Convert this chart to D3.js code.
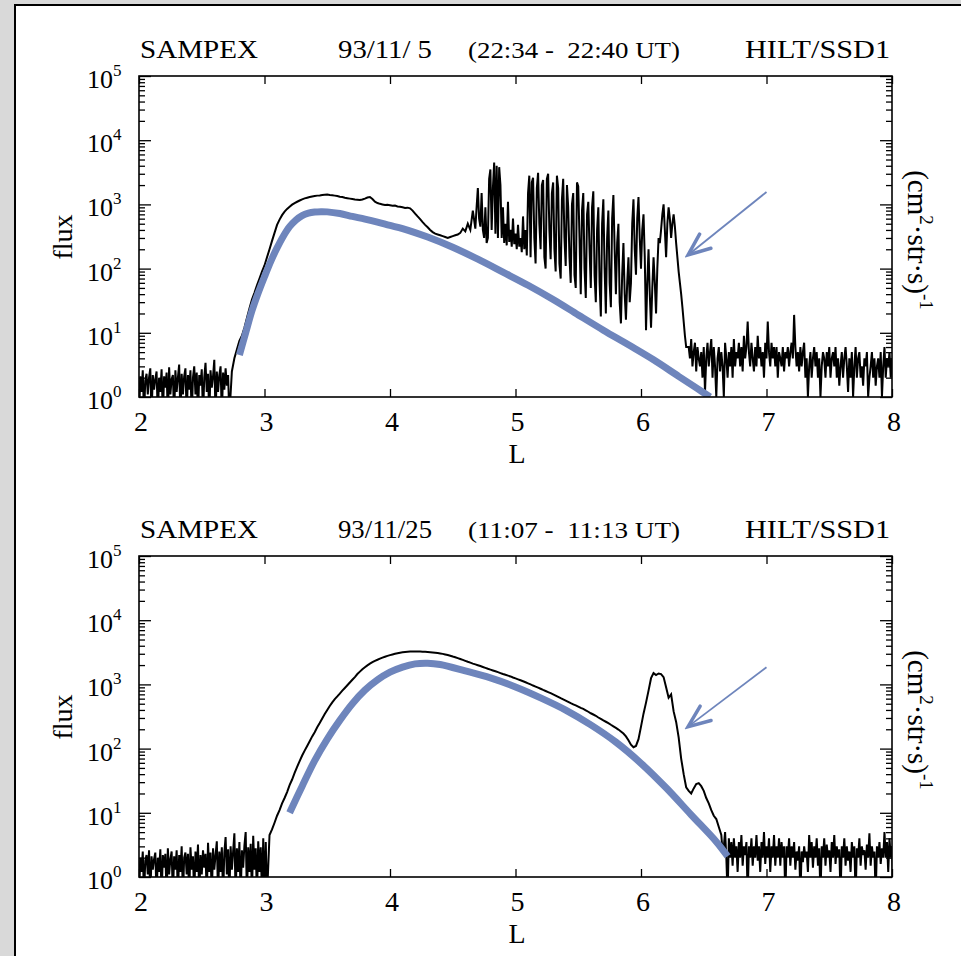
<!DOCTYPE html>
<html>
<head>
<meta charset="utf-8">
<script src="https://cdn.jsdelivr.net/npm/d3@7"></script>
<style>
body{margin:0;background:#d9d9d9}
svg{display:block;font-family:"Liberation Serif","Times New Roman",serif}
text{white-space:pre}
</style>
</head>
<body>
<div id="field"></div>
<script>
// flux samples; block k starts at L = *Starts[k] and steps by *Steps[k]
// (values under 1 are empty bins, they fall below the axis)
var topStarts = [2.00, 2.74, 4.44, 4.69, 6.38]
var topSteps = [0.01, 0.02, 0.02, 0.01, 0.01]
var topQuiet = [0.5,2.1,1.2,2.6,0.5,1.8,2.3,1.1,2.0,2.8, 0.5,2.2,1.3,1.9,2.5,0.5,2.0,1.2,2.7,0.5,
	2.1,1.4,2.4,0.5,2.9,1.1,1.9,2.2,0.5,2.6, 1.2,2.0,3.2,0.5,2.3,1.1,2.1,2.8,0.5,2.2,
	1.3,2.6,0.5,2.0,3.0,1.1,2.4,0.5,2.2,1.5, 2.7,0.5,2.0,3.4,1.2,2.3,0.5,2.6,1.4,2.1,
	3.8,0.5,2.5,1.2,2.2,3.0,0.5,2.4,1.3,2.8, 1.5,2.2,0.5]
var topRise = [2.5,4.0,5.5,7.5,9,12,17,24,33,42, 55,70,90,112,150,200,270,360,480,580,
	680,770,850,920,990,1050,1100,1150,1200,1240, 1270,1300,1330,1350,1370,1380,1400,1410,1420,1400,
	1390,1370,1350,1320,1300,1270,1250,1230,1210,1190, 1180,1170,1190,1230,1280,1300,1210,1100,1050,1020,
	1000,980,990,970,950,960,930,920,900,880, 890,870,800,720,650,590,530,480,440,400,
	370,350,340,330,320]
var topDip = [310,300,310,320,330,340,360,420,380,500, 400,800,420]
var topBursts = [900,1800,600,450,1500, 400,300,900,250,300,
	2500,3500,400,1800,4500,350,4000,300,3800,2000, 300,900,
	250,500,230,1100,260,400,220,600,240,350, 200,480,220,300,180,650,200,400,160,1500,
	2800,150,2200,2600,300,120,1800,3100,500,200, 2000,2400,150,100,2500,3000,400,140,1500,2200,
	200,90,2800,1800,120,70,1200,2500,300,110, 2000,900,150,60,1000,1500,80,50,2200,1900,
	300,40,800,1500,100,35,700,1100,200,50, 900,1600,80,30,400,900,60,
	18,500,1200,100,20,300,800,60,25,600, 1400,200,40,250,500,30,
	14,80,250,40,16,60,150,30,
	60,500,1200,200,80,600,1300,300,100,400, 700,150,
	11,60,200,40,12,50,150,60,20,100, 300,250,
	400,700,1000,400,150,500,900,600,300,500, 700,450,
	250,150,90,60,40,25,15,9,6]
var topTail = [6,4,8,3,5,7,2.5,6,4,3, 5,2,6,1.2,4,7,3,5,8,2, 6,3,1.0,4,6,2.5,5,3,1.0,7,
	4,2,5,3,6,2,8,3,5,4, 7,3,6,2.5,9,4,6,15,5,3, 7,4,2.5,6,3,9,4,6,3,5,
	2,7,4,15,5,3,7,4,6,3, 6,2,5,4,3,6,2.5,5,4,6, 3,5,7,4,19,6,3,5,2.5,6,
	3,5,7,2,4,1.0,3,5,2,4, 6,3,5,2,4,1.0,3,5,4,2, 5,3,6,2,4,5,3,6,2,4,
	1.5,3,5,2,4,6,3,1.2,4,2, 5,1.0,3,6,2,4,5,2,3,1.5, 4,3,5,1.0,2,3,5,2,4,1.5,
	3,4,2,5,1.0,3,6,2,4,3, 5,2,4]

var botStarts = [2.00, 3.04, 6.64]
var botSteps = [0.01, 0.02, 0.01]
var botQuiet = [0.5,2.0,1.2,2.5,0.5,1.8,2.2,1.1,2.6,0.5, 2.1,1.3,1.9,2.4,0.5,2.0,1.2,2.7,0.5,2.2,
	1.4,2.3,0.5,2.8,1.1,1.9,2.5,0.5,2.1,1.3, 2.6,0.5,2.2,1.2,3.0,0.5,2.0,2.4,1.1,2.3,
	0.5,2.9,1.3,2.1,0.5,2.5,1.2,3.2,0.5,2.2, 1.1,2.6,1.4,2.3,0.5,3.4,1.2,2.4,0.5,2.8,
	1.3,2.2,3.6,0.5,2.5,1.2,2.9,0.5,2.4,4.2, 1.1,2.7,0.5,3.0,1.3,2.5,4.8,0.5,2.8,1.2,
	3.5,0.5,2.6,1.4,3.1,5.0,0.5,2.9,1.2,3.3, 0.5,4.4,1.3,2.8,0.5,3.6,1.2,2.9,0.5,4.0,
	0.5,3.5,0.5]
var botBelt = [4.5,5.5,7,9,11,14,17,21,27,33, 42,52,64,78,93,110,130,155,180,215,
	250,295,345,400,460,525,590,650,720,800, 880,970,1070,1180,1300,1450,1580,1720,1850,1980,
	2100,2220,2330,2420,2520,2610,2700,2780,2860,2930, 3000,3060,3120,3160,3200,3220,3240,3250,3250,3250,
	3240,3230,3220,3200,3180,3150,3120,3080,3040,2990, 2930,2870,2800,2720,2650,2570,2490,2410,2330,2250,
	2180,2110,2050,1990,1930,1870,1810,1750,1700,1650, 1600,1550,1500,1450,1410,1370,1330,1280,1240,1200,
	1160,1120,1080,1040,1000,960,925,890,855,820, 790,760,730,700,670,640,610,585,560,535,
	510,490,470,450,430,415,395,375,355,340, 325,305,290,275,262,250,235,222,210,198,
	185,172,155,135,115,105,110,140,220,350, 520,800,1250,1500,1400,1480,1450,1300,900,620,
	700,380,260,150,70,40,25,22,20,24, 28,29,26,22,17,14,11,9,8,6]
var botTail = [4.5,2.5,3,5,2,0.5,4,2,3.5,1.5, 4,2,3,1.2,3.5,2,4.5,1.5,3,2.2,
	3.5,0.5,3,2,4,1.5,3,2,4.5,1.8, 3,1.2,3.5,2,5,1.6,3,2,4,1.2,
	3,2,4.5,1.5,3,2,4,1.5,3.5,2, 3,0.5,3,2,4,1.5,3,2,3.5,1.3,
	2.5,1.8,3,0.5,2.5,1.7,3,2,2.5,1.2, 4.5,2,3.5,1.4,3,2,4,1.5,2.8,0.5,
	3,2,4,1.5,3.2,2,2.6,1.2,3.5,2, 4.5,1.6,3,2,2.7,0.5,3,2,4,1.5,
	3,1.8,2.5,1.2,3.5,2,3,0.5,2.8,2, 4,1.5,3,2.2,2.6,1.3,3.2,2,4.8,1.5,
	3,2,2.5,0.5,3,2,3.5,1.6,2.8,2, 5,2,3.5,1.2,4,2,3,0.5,2.5,1.8,
	3.5,2,4]

// model curves [L, flux]
var topModel = [[2.80,4.5],[2.85,10],[2.90,22],[2.95,42],[3.00,75],[3.05,130],[3.10,210],[3.15,320],
	[3.20,450],[3.25,570],[3.30,670],[3.35,730],[3.40,760],[3.45,770],[3.50,765],[3.60,720],[3.70,650],
	[3.80,590],[3.90,530],[4.00,470],[4.10,420],[4.30,310],[4.50,215],[4.70,140],[4.90,88],[5.10,55],
	[5.30,33],[5.50,19],[5.70,11],[5.90,6.5],[6.10,3.8],[6.30,2.1],[6.45,1.35],[6.55,1.0]]
var botModel = [[3.20,10],[3.30,26],[3.40,65],[3.50,141],[3.60,275],[3.70,500],[3.80,813],[3.90,1175],
	[4.00,1550],[4.10,1860],[4.20,2090],[4.30,2140],[4.40,2040],[4.60,1620],[4.80,1260],[5.00,912],
	[5.20,617],[5.40,398],[5.60,234],[5.80,126],[6.00,59],[6.20,24.5],[6.40,9.3],[6.60,3.55],[6.69,2.1]]

// arrows: [tail, tip] as [L, flux]
var topArrow = [[7.0,1560],[6.375,163]]
var botArrow = [[7.0,1850],[6.375,220]]

var topTitles = ["SAMPEX", "93/11/ 5", "(22:34 -  22:40 UT)", "HILT/SSD1"]
var botTitles = ["SAMPEX", "93/11/25", "(11:07 -  11:13 UT)", "HILT/SSD1"]
var xTicks = [2, 3, 4, 5, 6, 7, 8]
var decades = [0, 1, 2, 3, 4, 5]

var width = 961
var height = 956
var blue = "#6e85bc"
var svg = d3.select("div#field").append("svg")
	.attr("width", width)
	.attr("height", height)

svg.append("rect")
	.attr("width", width).attr("height", height)
	.attr("fill", "#d9d9d9")
svg.append("rect")
	.attr("x", 15).attr("y", 5)
	.attr("width", 1000).attr("height", 1000)
	.attr("fill", "#fff")
	.attr("stroke", "#000")
	.attr("stroke-width", 2)

var defs = svg.append("defs")
defs.append("marker")
	.attr("id", "head")
	.attr("markerUnits", "userSpaceOnUse")
	.attr("viewBox", "-26 -14 30 28")
	.attr("refX", 0).attr("refY", 0)
	.attr("markerWidth", 30).attr("markerHeight", 28)
	.attr("orient", "auto")
  .append("path")
	.attr("d", "M-22,-9L0,0L-22,9")
	.attr("fill", "none")
	.attr("stroke", blue)
	.attr("stroke-width", 3.5)
	.attr("stroke-linecap", "round")
defs.append("clipPath").attr("id", "plotclip")
  .append("rect")
	.attr("x", 139).attr("y", 76)
	.attr("width", 753).attr("height", 321)

var x = d3.scaleLinear().domain([2, 8]).range([139, 892])
var y = d3.scaleLog().domain([1, 1e5]).range([397, 76])

var minors = []
decades.slice(0, 5).forEach(function(k){
	for (var m = 2; m < 10; m++) minors.push(m * Math.pow(10, k))
})

function samples(starts, steps, parts){
	var pts = []
	parts.forEach(function(p, k){
		p.forEach(function(f, i){ pts.push([starts[k] + i * steps[k], f]) })
	})
	return pts
}

var line = d3.line()
	.x(function(d){ return x(d[0]) })
	.y(function(d){ return y(d[1]) })
var smooth = d3.line()
	.x(function(d){ return x(d[0]) })
	.y(function(d){ return y(d[1]) })
	.curve(d3.curveCatmullRom.alpha(0.5))

function tidy(g){
	g.selectAll(".domain").remove()
	g.selectAll("line").attr("stroke", "#000").attr("stroke-width", 1.3)
}

function panel(dy, titles, data, model, arrow){
	var g = svg.append("g").attr("transform", "translate(0," + dy + ")")

	// titles
	var tx = [[140, 118, 26], [338, 94, 26], [468, 212, 24], [745, 145, 26]]
	g.selectAll("text.title")
		.data(titles).enter()
		.append("text")
		  .classed("title", true)
		  .attr("x", function(d, i){ return tx[i][0] })
		  .attr("y", 58)
		  .attr("font-size", function(d, i){ return tx[i][2] })
		  .attr("textLength", function(d, i){ return tx[i][1] })
		  .attr("lengthAdjust", "spacingAndGlyphs")
		  .text(function(d){ return d })

	// data
	var plot = g.append("g").attr("clip-path", "url(#plotclip)")
	plot.append("path")
		.attr("d", line(data))
		.attr("fill", "none")
		.attr("stroke", "#000")
		.attr("stroke-width", 2)
	plot.append("path")
		.attr("d", smooth(model))
		.attr("fill", "none")
		.attr("stroke", blue)
		.attr("stroke-width", 7)

	g.append("path")
		.attr("d", line(arrow))
		.attr("fill", "none")
		.attr("stroke", blue)
		.attr("stroke-width", 1.8)
		.attr("marker-end", "url(#head)")

	// axes, ticks pointing inward
	g.append("g").attr("transform", "translate(0,397)")
		.call(d3.axisBottom(x).tickValues(xTicks).tickSize(-8).tickFormat(""))
		.call(tidy)
	g.append("g").attr("transform", "translate(0,76)")
		.call(d3.axisTop(x).tickValues(xTicks).tickSize(-8).tickFormat(""))
		.call(tidy)
	g.append("g").attr("transform", "translate(139,0)")
		.call(d3.axisLeft(y).tickValues(decades.map(function(k){ return Math.pow(10, k) })).tickSize(-12).tickFormat(""))
		.call(tidy)
	g.append("g").attr("transform", "translate(139,0)")
		.call(d3.axisLeft(y).tickValues(minors).tickSize(-6).tickFormat(""))
		.call(tidy)
	g.append("g").attr("transform", "translate(892,0)")
		.call(d3.axisRight(y).tickValues(decades.map(function(k){ return Math.pow(10, k) })).tickSize(-12).tickFormat(""))
		.call(tidy)
	g.append("g").attr("transform", "translate(892,0)")
		.call(d3.axisRight(y).tickValues(minors).tickSize(-6).tickFormat(""))
		.call(tidy)
	g.append("rect")
		.attr("x", 139).attr("y", 76)
		.attr("width", 753).attr("height", 321)
		.attr("fill", "none")
		.attr("stroke", "#000")
		.attr("stroke-width", 1.6)

	// tick labels
	g.selectAll("text.xl")
		.data(xTicks).enter()
		.append("text")
		  .classed("xl", true)
		  .attr("x", function(d){ return x(d) + 2 })
		  .attr("y", 431)
		  .attr("text-anchor", "middle")
		  .attr("font-size", 28)
		  .text(function(d){ return d })
	var yl = g.selectAll("text.yl")
		.data(decades).enter()
		.append("text")
		  .classed("yl", true)
		  .attr("x", 87)
		  .attr("y", function(d){ return y(Math.pow(10, d)) + 12 })
		  .attr("font-size", 26)
	yl.append("tspan").text("10")
	yl.append("tspan")
		.attr("dy", -12)
		.attr("font-size", 17)
		.text(function(d){ return d })

	g.append("text")
		.attr("x", 517).attr("y", 463)
		.attr("text-anchor", "middle")
		.attr("font-size", 28)
		.text("L")
	g.append("text")
		.attr("transform", "translate(72,237) rotate(-90)")
		.attr("text-anchor", "middle")
		.attr("font-size", 28)
		.text("flux")
	var ul = g.append("text")
		.attr("transform", "translate(908,240) rotate(90)")
		.attr("text-anchor", "middle")
		.attr("font-size", 29)
	ul.append("tspan").text("(cm")
	ul.append("tspan").attr("dy", -12).attr("font-size", 19).text("2")
	ul.append("tspan").attr("dy", 12).text("\u00b7str\u00b7s)")
	ul.append("tspan").attr("dy", -12).attr("font-size", 19).text("-1")
}

panel(0, topTitles, samples(topStarts, topSteps, [topQuiet, topRise, topDip, topBursts, topTail]), topModel, topArrow)
panel(480, botTitles, samples(botStarts, botSteps, [botQuiet, botBelt, botTail]), botModel, botArrow)
</script>
</body>
</html>
